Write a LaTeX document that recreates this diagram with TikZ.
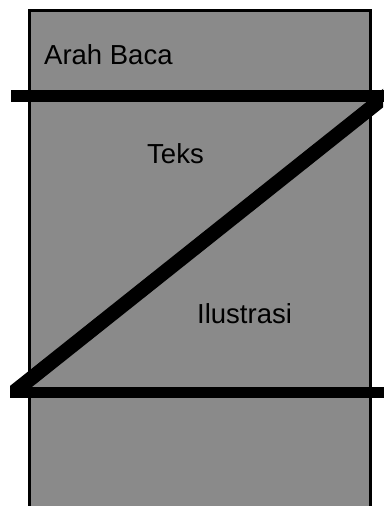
\documentclass[tikz,border=0pt]{standalone}
\usepackage{fontspec}
\setmainfont{Liberation Sans}
\definecolor{panelgray}{RGB}{138,138,138}
\begin{document}
\begin{tikzpicture}[x=1pt,y=-1pt,
  label/.style={inner sep=0pt,anchor=base west,font=\fontsize{27.5}{33}\selectfont},
  bar/.style={line width=12pt,black},
  diag/.style={line width=14.5pt,black}]
\useasboundingbox (0,0) rectangle (383,506);
\fill[white] (0,0) rectangle (383,506);
\filldraw[fill=panelgray,draw=black,line width=3pt] (29.5,515) -- (29.5,10) -- (370.5,10) -- (370.5,515);
\coordinate (tl) at (11,96);
\coordinate (tr) at (395,96);
\coordinate (bl) at (10,392);
\coordinate (br) at (395,392);
\coordinate (dtop) at (392,91);
\coordinate (dbot) at (14,392);
\draw[bar] (tl) -- (tr);
\draw[bar,line width=11pt] (bl) -- (br);
\begin{scope}
\clip (10,0) rectangle (383,397.5);
\draw[diag] (dbot) -- (dtop);
\end{scope}
\node[label] (arah) at (44,64) {Arah Baca};
\node[label] (teks) at (147,163) {Teks};
\node[label] (ilus) at (197,323) {Ilustrasi};
\end{tikzpicture}
\end{document}
